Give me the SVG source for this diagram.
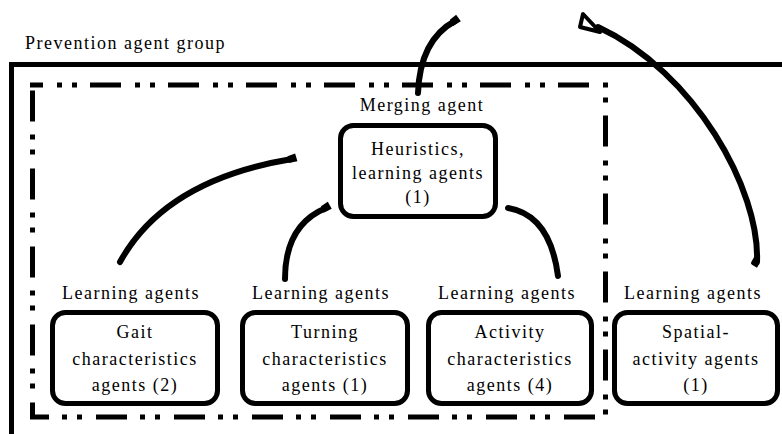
<svg xmlns="http://www.w3.org/2000/svg" width="782" height="434" viewBox="0 0 782 434">
  <style>
    text { font-family: "Liberation Serif", "DejaVu Serif", "Times New Roman", serif; font-size: 18px; letter-spacing: 1.5px; fill: #000; }
    .mid { text-anchor: middle; }
    .node rect { fill: #fff; stroke: #000; stroke-width: 5; }
    .frame { fill: none; stroke: #000; stroke-width: 5; }
    .group { fill: none; stroke: #000; stroke-width: 5; stroke-dasharray: 31 14 5 10 5 13; stroke-dashoffset: 18; }
    .link { fill: none; stroke: #000; stroke-width: 6; stroke-linecap: round; }
  </style>
  <defs>
    <marker id="nub" markerUnits="userSpaceOnUse" markerWidth="14" markerHeight="14" refX="2" refY="0" viewBox="-4 -7 14 14" orient="auto" overflow="visible">
      <path d="M-2,-3.5 L6,-5 L7,3 L-2,3.5 Z" fill="#000"/>
    </marker>
  </defs>
  <rect width="782" height="434" fill="#fff"/>

  <!-- outer prevention group frame -->
  <g id="prevention-group">
    <path class="frame" d="M11.5,434 V64.5 H782"/>
    <text x="25" y="49">Prevention agent group</text>
  </g>

  <!-- dash-dot merging group -->
  <g id="merging-group">
    <path class="group" d="M30,85 H605.5 V417 H32.5 V85"/>
    <text class="mid" x="422" y="111">Merging agent</text>
  </g>

  <g id="heuristics" class="node">
    <rect x="340.5" y="125.5" width="155" height="91" rx="13"/>
    <text class="mid" x="418" y="155">Heuristics,</text>
    <text class="mid" x="418" y="179">learning agents</text>
    <text class="mid" x="418" y="203">(1)</text>
  </g>

  <g id="gait" class="node">
    <text class="mid" x="131" y="299">Learning agents</text>
    <rect x="52.5" y="312.5" width="165" height="91" rx="13"/>
    <text class="mid" x="135" y="338">Gait</text>
    <text class="mid" x="135" y="365">characteristics</text>
    <text class="mid" x="135" y="391">agents (2)</text>
  </g>

  <g id="turning" class="node">
    <text class="mid" x="321" y="299">Learning agents</text>
    <rect x="242.5" y="312.5" width="165" height="91" rx="13"/>
    <text class="mid" x="325" y="338">Turning</text>
    <text class="mid" x="325" y="365">characteristics</text>
    <text class="mid" x="325" y="391">agents (1)</text>
  </g>

  <g id="activity" class="node">
    <text class="mid" x="507" y="299">Learning agents</text>
    <rect x="428.5" y="312.5" width="163" height="91" rx="13"/>
    <text class="mid" x="510" y="338">Activity</text>
    <text class="mid" x="510" y="365">characteristics</text>
    <text class="mid" x="510" y="391">agents (4)</text>
  </g>

  <g id="spatial" class="node">
    <text class="mid" x="693" y="299">Learning agents</text>
    <rect x="614.5" y="312.5" width="163" height="91" rx="13"/>
    <text class="mid" x="696" y="338">Spatial-</text>
    <text class="mid" x="696" y="365">activity agents</text>
    <text class="mid" x="696" y="391">(1)</text>
  </g>

  <!-- curved connectors -->
  <g id="connectors">
    <path class="link" d="M120,262 Q165,180 292,159" marker-end="url(#nub)"/>
    <path class="link" d="M285,279 Q285,225 326,208" marker-end="url(#nub)"/>
    <path class="link" d="M508,208 Q550,215 558,276"/>
    <path class="link" d="M418,93 Q420,40 455,21" marker-end="url(#nub)"/>
    <path class="link" d="M757,262 C760,190 695,72 598,27"/>
    <path d="M757,256 L753,263 L758,266" fill="none" stroke="#000" stroke-width="4" stroke-linejoin="round"/>
    <polygon points="583,14 580,27 600,32" fill="#fff" stroke="#000" stroke-width="4" stroke-linejoin="round"/>
  </g>
</svg>
